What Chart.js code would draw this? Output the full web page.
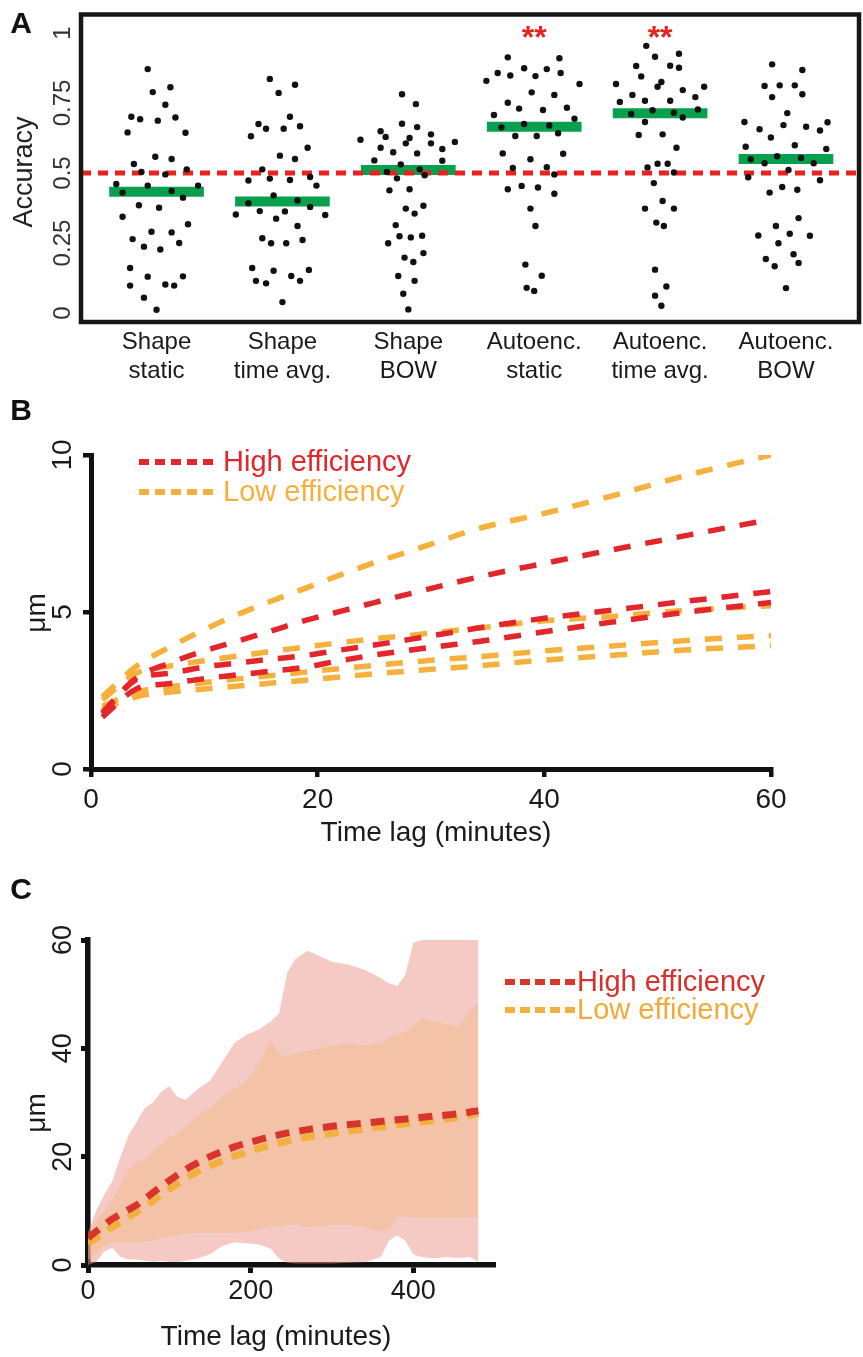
<!DOCTYPE html>
<html>
<head>
<meta charset="utf-8">
<title>Accuracy and displacement</title>
<script src="https://cdn.jsdelivr.net/npm/chart.js@4.4.1/dist/chart.umd.min.js"></script>
<style>
  html, body { margin: 0; padding: 0; background: #fff; }
  #page { position: relative; width: 863px; height: 1357px; overflow: hidden; }
  #page canvas { position: absolute; left: 0; }
</style>
</head>
<body>
<div id="page">
  <canvas id="panelA" width="863" height="390" style="top:0px"></canvas>
  <canvas id="panelB" width="863" height="480" style="top:390px"></canvas>
  <canvas id="panelC" width="863" height="487" style="top:870px"></canvas>
</div>
<script>
const FONT = "'Liberation Sans', Arial, Helvetica, sans-serif";

// ---- panel A: classifier accuracy per feature set, [jitter, accuracy]
const catLabels = [["Shape", "static"], ["Shape", "time avg."], ["Shape", "BOW"],
                   ["Autoenc.", "static"], ["Autoenc.", "time avg."], ["Autoenc.", "BOW"]];
const shapeStatic = [[-0.07,0.871],[-0.03,0.789],[0.11,0.806],[0.07,0.744],[-0.20,0.701],[-0.13,0.692],[0.01,0.687],[0.15,0.698],[-0.23,0.645],[0.23,0.644],[-0.01,0.558],[0.12,0.55],[-0.18,0.532],[-0.12,0.504],[0.07,0.495],[0.24,0.513],[-0.32,0.461],[-0.07,0.455],[0.33,0.455],[-0.27,0.43],[0.12,0.436],[0.21,0.412],[-0.14,0.385],[0.02,0.376],[-0.27,0.344],[0.25,0.317],[-0.04,0.29],[0.12,0.288],[-0.19,0.264],[-0.10,0.237],[0.18,0.25],[0.03,0.227],[-0.21,0.161],[-0.07,0.13],[0.21,0.131],[-0.21,0.098],[0.07,0.102],[0.14,0.098],[-0.10,0.055],[0.00,0.012]];
const shapeTimeAvg = [[-0.10,0.836],[0.10,0.815],[-0.03,0.786],[0.06,0.701],[-0.19,0.675],[-0.13,0.658],[0.01,0.658],[0.14,0.667],[-0.25,0.631],[0.20,0.59],[-0.02,0.562],[0.10,0.55],[-0.16,0.513],[-0.27,0.473],[-0.10,0.48],[0.06,0.475],[0.22,0.486],[0.27,0.455],[-0.07,0.42],[0.12,0.402],[-0.27,0.392],[-0.18,0.364],[0.02,0.363],[0.22,0.379],[-0.37,0.352],[-0.05,0.337],[0.34,0.35],[0.12,0.311],[-0.16,0.267],[-0.09,0.249],[0.03,0.249],[0.16,0.261],[-0.24,0.161],[-0.07,0.151],[0.21,0.154],[-0.21,0.115],[-0.13,0.106],[0.07,0.132],[0.14,0.115],[0.00,0.039]];
const shapeBow = [[-0.05,0.781],[0.06,0.746],[-0.05,0.676],[0.07,0.664],[-0.22,0.649],[-0.18,0.629],[0.01,0.625],[-0.02,0.606],[0.18,0.638],[-0.38,0.619],[0.37,0.611],[-0.22,0.59],[-0.12,0.574],[0.07,0.57],[0.18,0.606],[0.27,0.586],[-0.27,0.545],[-0.06,0.531],[0.27,0.544],[-0.17,0.504],[0.09,0.513],[0.13,0.492],[-0.09,0.481],[-0.15,0.438],[0.01,0.442],[-0.02,0.373],[0.05,0.355],[0.12,0.383],[-0.10,0.314],[-0.07,0.274],[0.02,0.27],[0.11,0.276],[-0.16,0.249],[0.12,0.214],[-0.03,0.198],[0.04,0.182],[-0.08,0.132],[0.05,0.115],[-0.04,0.069],[0.00,0.013]];
const autoStatic = [[-0.21,0.913],[0.20,0.91],[-0.08,0.874],[0.10,0.871],[-0.29,0.857],[-0.19,0.848],[0.01,0.846],[0.21,0.857],[-0.38,0.829],[0.36,0.818],[-0.02,0.788],[0.16,0.779],[-0.21,0.751],[-0.12,0.73],[0.07,0.725],[0.26,0.733],[-0.32,0.707],[0.32,0.694],[-0.26,0.663],[-0.08,0.675],[0.12,0.67],[-0.15,0.632],[0.02,0.632],[0.19,0.642],[-0.25,0.57],[-0.03,0.549],[0.23,0.569],[-0.17,0.518],[0.10,0.521],[0.16,0.495],[-0.21,0.442],[-0.10,0.454],[0.03,0.448],[0.16,0.426],[-0.03,0.373],[0.01,0.311],[-0.07,0.173],[0.06,0.133],[-0.06,0.09],[0.00,0.079]];
const autoTimeAvg = [[-0.11,0.954],[-0.04,0.915],[0.15,0.926],[-0.19,0.882],[0.08,0.883],[0.15,0.876],[-0.15,0.845],[-0.35,0.818],[0.01,0.825],[-0.02,0.808],[0.35,0.808],[0.18,0.796],[-0.22,0.779],[0.28,0.771],[-0.32,0.754],[-0.12,0.758],[0.08,0.758],[-0.23,0.711],[-0.06,0.724],[0.11,0.715],[0.30,0.727],[0.18,0.698],[-0.12,0.682],[-0.17,0.636],[0.02,0.638],[0.13,0.59],[-0.10,0.52],[-0.02,0.533],[0.06,0.533],[0.11,0.502],[-0.05,0.464],[-0.12,0.373],[0.02,0.4],[0.11,0.373],[-0.03,0.323],[0.03,0.311],[-0.04,0.155],[0.05,0.095],[-0.04,0.062],[0.01,0.026]];
const autoBow = [[-0.11,0.888],[0.13,0.868],[-0.17,0.811],[-0.05,0.813],[0.07,0.813],[-0.11,0.771],[0.13,0.781],[0.01,0.714],[-0.33,0.682],[-0.02,0.671],[0.16,0.665],[0.33,0.681],[-0.21,0.656],[-0.12,0.627],[0.27,0.652],[-0.32,0.594],[0.07,0.599],[0.32,0.586],[-0.28,0.549],[-0.17,0.535],[-0.07,0.56],[0.12,0.554],[0.22,0.535],[0.02,0.511],[-0.30,0.485],[0.27,0.474],[-0.13,0.43],[-0.03,0.45],[0.09,0.44],[0.10,0.339],[-0.08,0.311],[0.03,0.283],[-0.22,0.277],[0.19,0.276],[-0.06,0.249],[0.06,0.21],[-0.16,0.193],[-0.09,0.167],[0.10,0.179],[0.00,0.089]];
const groupMeans = [0.433, 0.398, 0.511, 0.665, 0.713, 0.55];
const chanceLevel = 0.5;
const accTicks = [0, 0.25, 0.5, 0.75, 1];
const starredGroups = [4, 5];

// ---- panel B: mean displacement vs time lag, one line per cell group
const lagB = [1, 4, 7, 10, 13, 16, 19, 22, 25, 28, 31, 34, 40, 46, 52, 60];
const highB1 = [1.8, 2.9, 3.38, 3.76, 4.08, 4.41, 4.74, 5.02, 5.3, 5.57, 5.84, 6.1, 6.55, 6.98, 7.4, 7.95];
const highB2 = [1.75, 2.85, 3.05, 3.25, 3.38, 3.5, 3.62, 3.79, 3.95, 4.12, 4.3, 4.48, 4.8, 5.06, 5.32, 5.65];
const highB3 = [1.65, 2.55, 2.72, 2.88, 3.0, 3.12, 3.25, 3.45, 3.63, 3.78, 3.92, 4.05, 4.37, 4.68, 4.97, 5.3];
const lowB1 = [2.3, 3.27, 3.89, 4.44, 4.93, 5.36, 5.77, 6.18, 6.57, 6.92, 7.28, 7.64, 8.14, 8.7, 9.3, 10.0];
const lowB2 = [2.2, 3.05, 3.28, 3.45, 3.6, 3.75, 3.89, 4.02, 4.15, 4.25, 4.37, 4.48, 4.72, 4.86, 5.04, 5.2];
const lowB3 = [2.0, 2.45, 2.62, 2.75, 2.87, 2.98, 3.09, 3.2, 3.3, 3.4, 3.49, 3.57, 3.76, 3.92, 4.08, 4.25];
const lowB4 = [1.9, 2.3, 2.45, 2.55, 2.64, 2.74, 2.83, 2.93, 3.03, 3.12, 3.2, 3.28, 3.47, 3.62, 3.78, 3.93];
const lagTicksB = [0, 20, 40, 60];
const umTicksB = [0, 5, 10];

// ---- panel C: pooled displacement, mean line and spread band
const lagBand = [0, 10, 20, 30, 40, 50, 60, 70, 80, 90, 100, 110, 120, 135, 150, 165, 180, 195, 210, 225, 235, 245, 255, 270, 285, 300, 320, 340, 360, 370, 380, 390, 400, 410, 425, 440, 455, 470, 480];
const highUpper = [6, 10, 13, 15.5, 20, 24, 26.5, 29, 30, 32, 33, 31, 30.5, 32.5, 34, 37.5, 41, 42.5, 43.5, 45, 46.5, 54, 56.5, 58, 57, 56, 55.5, 54.5, 53, 52, 51.5, 53.5, 59.5, 60, 60, 60, 60, 60, 60];
const highLower = [0, 0.5, 2.5, 3.2, 1.5, 1, 1, 0.8, 0.6, 0.8, 0.6, 0.5, 0.8, 1.2, 2, 3.5, 4.2, 4, 3.8, 3, 1.2, 0.4, 0.3, 0.3, 0.3, 0.3, 0.4, 0.5, 1.5, 4.5, 5.5, 4.5, 2, 1.5, 1.2, 1.5, 1.3, 1.5, 0.5];
const lowUpper = [5, 8, 10, 12, 15, 17.5, 19, 19.5, 21, 22, 23.5, 24.4, 25.5, 27.5, 29, 31, 32.5, 34, 37, 41.5, 39, 38.5, 39, 39.5, 40, 40.5, 41, 40.5, 41, 42, 42.5, 43, 44, 45.5, 45, 44.5, 44, 47, 48.5];
const lowLower = [1, 2, 3.5, 4.2, 4.2, 4.2, 4.2, 4.5, 4.5, 5, 5.3, 5.5, 5.8, 6, 6, 6, 6, 6.2, 6.5, 7.2, 7.2, 7.5, 7.5, 7, 7.2, 7.5, 7.5, 7, 6.2, 6.5, 9, 9, 8.8, 8.8, 8.8, 8.8, 8.8, 8.8, 8.8];
const lagMean = [0, 15, 30, 45, 60, 75, 90, 105, 120, 150, 180, 210, 240, 270, 300, 340, 380, 420, 460, 480];
const highMean = [5.0, 6.8, 8.5, 9.8, 11.1, 12.8, 14.5, 16.1, 17.6, 20.0, 21.8, 23.1, 24.2, 25.0, 25.6, 26.2, 26.8, 27.4, 28.0, 28.5];
const lowMean = [4.0, 5.5, 7.0, 8.4, 9.8, 11.3, 13.0, 14.5, 16.0, 18.3, 20.1, 21.5, 22.7, 23.6, 24.3, 25.1, 25.9, 26.6, 27.4, 28.0];
const lagTicksC = [0, 200, 400];
const umTicksC = [0, 20, 40, 60];

Chart.defaults.font.family = FONT;
Chart.defaults.color = '#1a1a1a';
Chart.defaults.animation = false;
Chart.defaults.events = [];
Chart.defaults.plugins.legend.display = false;
Chart.defaults.plugins.tooltip.enabled = false;

const pts = (xs, ys) => xs.map((x, i) => ({ x: x, y: ys[i] }));
const fixTicks = vals => s => { s.ticks = vals.map(v => ({ value: v })); };

// rotated y tick labels, rotated y title, free texts and star marks
const overlay = {
  id: 'overlay',
  afterDraw(chart, args, o) {
    const ctx = chart.ctx, ys = chart.scales.y;
    ctx.save();
    ctx.textAlign = 'center';
    ctx.textBaseline = 'middle';
    if (o.tickX != null) {
      ctx.font = o.tickFont;
      ctx.fillStyle = o.tickColor || '#1a1a1a';
      ys.ticks.forEach(t => {
        ctx.save();
        ctx.translate(o.tickX, ys.getPixelForValue(t.value));
        ctx.rotate(-Math.PI / 2);
        ctx.fillText(String(t.value), 0, 0);
        ctx.restore();
      });
    }
    (o.texts || []).forEach(t => {
      ctx.save();
      ctx.font = t.font;
      ctx.fillStyle = t.color || '#1a1a1a';
      ctx.translate(t.x, t.y);
      if (t.rotate) ctx.rotate(-Math.PI / 2);
      ctx.fillText(t.text, 0, 0);
      ctx.restore();
    });
    if (o.stars) {
      const s = o.stars;
      ctx.font = s.font;
      ctx.fillStyle = s.color;
      ctx.textBaseline = 'alphabetic';
      s.groups.forEach(g => {
        ctx.fillText(s.text, chart.scales.x.getPixelForValue(g), ys.getPixelForValue(s.value) + s.dy);
      });
    }
    ctx.restore();
  }
};

// black box round the plot area
const frame = {
  id: 'frame',
  afterDraw(chart, args, o) {
    if (!o.width) return;
    const a = chart.chartArea, ctx = chart.ctx;
    ctx.save();
    ctx.strokeStyle = o.color;
    ctx.lineWidth = o.width;
    ctx.strokeRect(a.left, a.top, a.right - a.left, a.bottom - a.top);
    ctx.restore();
  }
};

// key with dashed samples, one row per distinct dataset label
const dashKey = {
  id: 'dashKey',
  afterDraw(chart, args, o) {
    if (o.x == null) return;
    const ctx = chart.ctx, rows = [];
    chart.data.datasets.forEach(ds => {
      if (ds.label && !rows.some(r => r.label === ds.label)) rows.push(ds);
    });
    ctx.save();
    ctx.font = o.font;
    ctx.textBaseline = 'middle';
    ctx.textAlign = 'left';
    rows.forEach((ds, i) => {
      const y = o.y + i * o.gap;
      ctx.strokeStyle = ds.borderColor;
      ctx.lineWidth = o.lineWidth;
      ctx.setLineDash(o.dash);
      ctx.beginPath();
      ctx.moveTo(o.x, y);
      ctx.lineTo(o.x + o.len, y);
      ctx.stroke();
      ctx.fillStyle = o.textColors ? o.textColors[i] : ds.borderColor;
      ctx.fillText(ds.label, o.x + o.len + o.textGap, y + 1);
    });
    ctx.restore();
  }
};

// ---------------- panel A
const groupsA = [shapeStatic, shapeTimeAvg, shapeBow, autoStatic, autoTimeAvg, autoBow];
const xMinA = 0.4, xMaxA = 6.58, barHalf = 0.376;
const dotPoints = [];
groupsA.forEach((g, i) => g.forEach(p => dotPoints.push({ x: i + 1 + p[0], y: p[1] })));

const meanBars = groupMeans.map((m, i) => ({
  type: 'line',
  showLine: true,
  data: [{ x: i + 1 - barHalf, y: m }, { x: i + 1 + barHalf, y: m }],
  borderColor: '#08a04e',
  borderWidth: 10,
  borderCapStyle: 'butt',
  pointRadius: 0,
  order: 2
}));

new Chart(document.getElementById('panelA'), {
  type: 'scatter',
  data: {
    datasets: [
      { data: dotPoints, pointRadius: 3.2, pointBackgroundColor: '#111', pointBorderWidth: 0, order: 0 },
      {
        type: 'line', showLine: true,
        data: [{ x: xMinA, y: chanceLevel }, { x: xMaxA, y: chanceLevel }],
        borderColor: '#e8231f', borderWidth: 5, borderDash: [10, 7], pointRadius: 0, order: 1
      },
      ...meanBars
    ]
  },
  options: {
    responsive: false,
    layout: { padding: { left: 81, right: 2, top: 14.5, bottom: 0 } },
    scales: {
      x: {
        type: 'linear', min: xMinA, max: xMaxA,
        afterFit: s => { s.height = 68; },
        afterBuildTicks: s => { s.ticks = catLabels.map((c, i) => ({ value: i + 1 })); },
        grid: { display: false, drawTicks: false },
        border: { display: false },
        ticks: {
          callback: v => catLabels[v - 1],
          font: { size: 24, lineHeight: 1.2 }, padding: 6,
          color: '#1a1a1a', autoSkip: false, maxRotation: 0, minRotation: 0
        }
      },
      y: {
        min: -0.032, max: 1.066,
        afterFit: s => { s.width = 0; },
        afterBuildTicks: fixTicks(accTicks),
        grid: { display: false, drawTicks: false },
        border: { display: false },
        ticks: { display: false }
      }
    },
    plugins: {
      frame: { width: 4.5, color: '#161616' },
      overlay: {
        tickX: 63, tickFont: '24px ' + FONT, tickColor: '#333',
        texts: [
          { text: 'A', x: 21, y: 25, font: 'bold 30px ' + FONT, color: '#111' },
          { text: 'Accuracy', x: 25, y: 172, font: '27px ' + FONT, color: '#222', rotate: true }
        ],
        stars: { groups: starredGroups, value: 1.0, text: '**', font: 'bold 32px ' + FONT, color: '#e8231f', dy: 15 }
      }
    }
  },
  plugins: [overlay, frame]
});

// ---------------- panel B
const redB = '#e3262b', orangeB = '#f6b03c';
const lineB = (label, color, vals) => ({
  label: label,
  data: pts(lagB, vals),
  borderColor: color,
  borderWidth: 5.5,
  borderDash: [17, 15],
  borderCapStyle: 'butt',
  cubicInterpolationMode: 'monotone',
  pointRadius: 0,
  fill: false
});

new Chart(document.getElementById('panelB'), {
  type: 'line',
  data: {
    datasets: [
      lineB('High efficiency', redB, highB1),
      lineB('High efficiency', redB, highB2),
      lineB('High efficiency', redB, highB3),
      lineB('Low efficiency', orangeB, lowB1),
      lineB('Low efficiency', orangeB, lowB2),
      lineB('Low efficiency', orangeB, lowB3),
      lineB('Low efficiency', orangeB, lowB4)
    ]
  },
  options: {
    responsive: false,
    layout: { padding: { left: 91, right: 92, top: 65, bottom: 0 } },
    scales: {
      x: {
        type: 'linear', min: 0, max: 60,
        afterFit: s => { s.height = 101; },
        afterBuildTicks: fixTicks(lagTicksB),
        grid: { display: true, drawOnChartArea: false, drawTicks: true, tickLength: 8, lineWidth: 4.5, color: '#111' },
        border: { display: true, width: 5, color: '#111' },
        ticks: { font: { size: 28 }, padding: 6, color: '#1a1a1a', maxRotation: 0 }
      },
      y: {
        min: 0, max: 10,
        afterFit: s => { s.width = 0; },
        afterBuildTicks: fixTicks(umTicksB),
        grid: { display: true, drawOnChartArea: false, drawTicks: true, tickLength: 8, lineWidth: 4.5, color: '#111' },
        border: { display: true, width: 5, color: '#111' },
        ticks: { display: false }
      }
    },
    plugins: {
      overlay: {
        tickX: 63, tickFont: '28px ' + FONT, tickColor: '#1a1a1a',
        texts: [
          { text: 'B', x: 21, y: 22, font: 'bold 30px ' + FONT, color: '#111' },
          { text: 'μm', x: 37, y: 223, font: '28px ' + FONT, color: '#1a1a1a', rotate: true },
          { text: 'Time lag (minutes)', x: 436, y: 443, font: '28px ' + FONT, color: '#1a1a1a' }
        ]
      },
      dashKey: {
        x: 139, y: 72, gap: 30, len: 80, textGap: 4, lineWidth: 6, dash: [10, 6],
        font: '29px ' + FONT
      }
    }
  },
  plugins: [overlay, dashKey]
});

// ---------------- panel C
const redC = '#d8352d', orangeC = '#f2b13c';
const bandEdge = (vals, fill, color) => ({
  data: pts(lagBand, vals),
  borderWidth: 0,
  pointRadius: 0,
  fill: fill,
  backgroundColor: color,
  tension: 0
});
const meanLine = (label, color, vals) => ({
  label: label,
  data: pts(lagMean, vals),
  borderColor: color,
  borderWidth: 7,
  borderDash: [14, 10],
  borderCapStyle: 'butt',
  cubicInterpolationMode: 'monotone',
  pointRadius: 0,
  fill: false
});

new Chart(document.getElementById('panelC'), {
  type: 'line',
  data: {
    datasets: [
      meanLine('High efficiency', redC, highMean),
      meanLine('Low efficiency', orangeC, lowMean),
      bandEdge(lowUpper, '+1', 'rgba(245,185,130,0.45)'),
      bandEdge(lowLower, false, 'rgba(0,0,0,0)'),
      bandEdge(highUpper, '+1', 'rgba(236,150,140,0.5)'),
      bandEdge(highLower, false, 'rgba(0,0,0,0)')
    ]
  },
  options: {
    responsive: false,
    layout: { padding: { left: 88, right: 370, top: 70, bottom: 0 } },
    scales: {
      x: {
        type: 'linear', min: 0, max: 498,
        afterFit: s => { s.height = 92; },
        afterBuildTicks: fixTicks(lagTicksC),
        grid: { display: true, drawOnChartArea: false, drawTicks: true, tickLength: 8, lineWidth: 5, color: '#111' },
        border: { display: true, width: 5.5, color: '#111' },
        ticks: { font: { size: 27 }, padding: 2, color: '#1a1a1a', maxRotation: 0 }
      },
      y: {
        min: 0, max: 60,
        afterFit: s => { s.width = 0; },
        afterBuildTicks: fixTicks(umTicksC),
        grid: { display: true, drawOnChartArea: false, drawTicks: true, tickLength: 7, lineWidth: 5, color: '#111' },
        border: { display: true, width: 5.5, color: '#111' },
        ticks: { display: false }
      }
    },
    plugins: {
      overlay: {
        tickX: 64, tickFont: '27px ' + FONT, tickColor: '#1a1a1a',
        texts: [
          { text: 'C', x: 21, y: 21, font: 'bold 30px ' + FONT, color: '#111' },
          { text: 'μm', x: 37, y: 243, font: '28px ' + FONT, color: '#1a1a1a', rotate: true },
          { text: 'Time lag (minutes)', x: 276, y: 467, font: '28px ' + FONT, color: '#1a1a1a' }
        ]
      },
      dashKey: {
        x: 505, y: 112, gap: 28, len: 70, textGap: 2, lineWidth: 6, dash: [10, 5],
        font: '29px ' + FONT, textColors: ['#d8302b', '#f2aa3a']
      }
    }
  },
  plugins: [overlay, dashKey]
});
</script>
</body>
</html>
